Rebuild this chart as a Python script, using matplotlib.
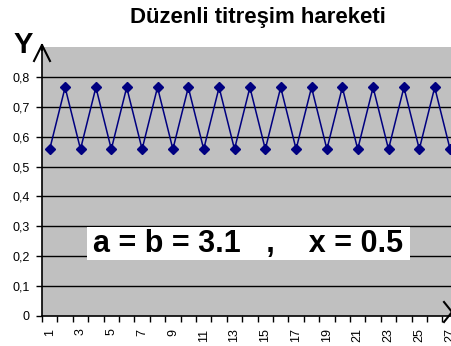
import numpy as np
import matplotlib.pyplot as plt
from matplotlib.patches import Rectangle

plt.rcParams['font.family'] = ['Liberation Sans', 'DejaVu Sans']

# data
steps = list(range(1, 28))
y_values = [0.558, 0.765, 0.558, 0.765, 0.558, 0.765, 0.558, 0.765, 0.558,
            0.765, 0.558, 0.765, 0.558, 0.765, 0.558, 0.765, 0.558, 0.765,
            0.558, 0.765, 0.558, 0.765, 0.558, 0.765, 0.558, 0.765, 0.558]
y_ticks = [0, 0.1, 0.2, 0.3, 0.4, 0.5, 0.6, 0.7, 0.8]
y_labels = ['0', '0,1', '0,2', '0,3', '0,4', '0,5', '0,6', '0,7', '0,8']
x_label_steps = list(range(1, 28, 2))

W, H = 451, 346
fig = plt.figure(figsize=(W / 100, H / 100), dpi=100)
fig.patch.set_facecolor('white')

# plot area runs past the right edge, like the original
ax = fig.add_axes([42 / W, 30 / H, 27 * 15.4 / W, 269 / H])
ax.set_facecolor('#c0c0c0')
ax.set_xlim(0.5, 27.5)
ax.set_ylim(0, 0.9)

for yv in y_ticks[1:]:
    ax.axhline(yv, color='black', lw=1.0, zorder=1)

ax.plot(steps, y_values, color='#000080', lw=1.1, marker='D',
        markersize=5.5, zorder=3)

for s in ['top', 'right']:
    ax.spines[s].set_visible(False)
for s in ['left', 'bottom']:
    ax.spines[s].set_color('black')
    ax.spines[s].set_linewidth(1.2)

ax.set_yticks(y_ticks)
ax.set_yticklabels(y_labels, fontsize=9)
ax.tick_params(axis='y', length=4, width=1, pad=5)

ax.set_xticks(x_label_steps)
ax.set_xticklabels([str(s) for s in x_label_steps], rotation=90, fontsize=9)
ax.set_xticks(np.arange(0.5, 28, 1), minor=True)
ax.tick_params(axis='x', which='major', length=0, pad=9)
ax.tick_params(axis='x', which='minor', length=4, width=1)

# axis arrowheads, given in figure pixels from the top-left
def px_line(xs, ys):
    ax.plot([x / W for x in xs], [1 - y / H for y in ys], color='black',
            lw=1.5, transform=fig.transFigure, clip_on=False, zorder=10)

px_line([34, 42, 50], [61, 45, 61])
px_line([42, 42], [50, 45])
px_line([444, 452, 444], [302, 312, 322])

fig.text(23 / W, 1 - 45 / H, 'Y', fontsize=21, fontweight='bold',
         ha='center', va='center')
fig.text(258 / W, 1 - 18 / H, 'Düzenli titreşim hareketi', fontsize=16,
         fontweight='bold', ha='center', va='center')

fig.patches.append(Rectangle((87 / W, 1 - 260 / H), 323 / W, 33 / H,
                             transform=fig.transFigure, facecolor='white',
                             edgecolor='none', zorder=5))
fig.text(248 / W, 1 - 244 / H, 'a = b = 3.1   ,    x = 0.5', fontsize=22,
         fontweight='bold', ha='center', va='center', zorder=6)

fig.savefig('out.png', dpi=100)
